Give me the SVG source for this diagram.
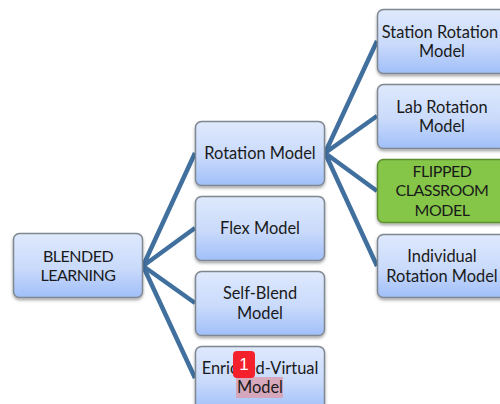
<svg xmlns="http://www.w3.org/2000/svg" width="500" height="404" viewBox="0 0 500 404">
<defs>
<linearGradient id="blue" x1="0" y1="0" x2="0" y2="1"><stop offset="0" stop-color="#dfe9fd"/><stop offset="0.55" stop-color="#c9dafb"/><stop offset="1" stop-color="#a0bff9"/></linearGradient>
<filter id="sh" x="-10%" y="-10%" width="120%" height="125%"><feDropShadow dx="0" dy="2" stdDeviation="1.5" flood-color="#000" flood-opacity="0.35"/></filter>
</defs>
<style>
.b{fill:url(#blue);stroke:#7f8790;stroke-width:1.5;filter:url(#sh)}
.g{fill:#85c64a;stroke:#5d8f30;stroke-width:1.5;filter:url(#sh)}
.t{font-family:"Lato","Open Sans",sans-serif;font-size:16.400px;fill:#1a1a1a;text-anchor:middle}
.u{font-size:16px;letter-spacing:-0.5px}
.c{fill:none;stroke:#41709f;stroke-width:4.5}
</style>
<g id="connectors">
<path class="c" d="M143 266L195 153M143 266L195 228M143 266L195 303M143 266L195 378"/>
<path class="c" d="M325 153L377 41M325 153L377 116M325 153L377 191M325 153L377 266"/>
</g>
<g id="blended"><rect class="b" x="13.500" y="233.500" width="129" height="64" rx="6"/><text class="t u" x="78" y="261.500">BLENDED</text><text class="t u" x="78" y="280.500">LEARNING</text></g>
<g id="rotation"><rect class="b" x="195.500" y="121.500" width="129" height="64" rx="6"/><text class="t" x="260" y="158.500">Rotation Model</text></g>
<g id="flex"><rect class="b" x="195.500" y="196.500" width="129" height="64" rx="6"/><text class="t" x="260" y="233.500">Flex Model</text></g>
<g id="selfblend"><rect class="b" x="195.500" y="271.500" width="129" height="64" rx="6"/><text class="t" x="260" y="298.500">Self-Blend</text><text class="t" x="260" y="318.500">Model</text></g>
<g id="enriched"><rect class="b" x="195.500" y="346.500" width="129" height="64" rx="6"/><rect x="236" y="377" width="47" height="21" fill="#d9a0b0" opacity="0.85"/><text class="t" x="260" y="373.500">Enriched-Virtual</text><text class="t" x="260" y="392.500">Model</text></g>
<g id="station"><rect class="b" x="377.500" y="9.500" width="129" height="64" rx="6"/><text class="t" x="440" y="37.500">Station Rotation</text><text class="t" x="442" y="56.500">Model</text></g>
<g id="lab"><rect class="b" x="377.500" y="84.500" width="129" height="64" rx="6"/><text class="t" x="442" y="112.500">Lab Rotation</text><text class="t" x="442" y="131.500">Model</text></g>
<g id="flipped"><rect class="g" x="377.500" y="159.500" width="129" height="63" rx="6"/><text class="t u" x="442" y="176.500">FLIPPED</text><text class="t u" x="442" y="195.500">CLASSROOM</text><text class="t u" x="442" y="215.500">MODEL</text></g>
<g id="individual"><rect class="b" x="377.500" y="234.500" width="129" height="63" rx="6"/><text class="t" x="442" y="261.500">Individual</text><text class="t" x="442" y="281.500">Rotation Model</text></g>
<g id="badge"><rect x="233" y="351" width="22" height="27" rx="4" fill="#f4202c"/><text x="244" y="370" style="font-family:'Liberation Sans',sans-serif;font-size:17px;fill:#fff;text-anchor:middle">1</text></g>
</svg>
